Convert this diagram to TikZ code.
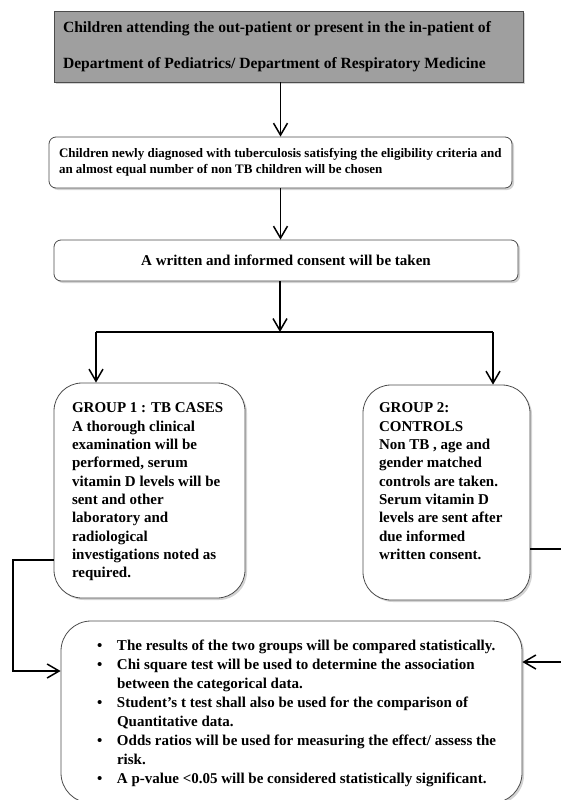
\documentclass[tikz,border=0pt]{standalone}
\usepackage{fontspec}
\setmainfont{Liberation Serif}
\usetikzlibrary{arrows.meta,shadows}
\begin{document}
\begin{tikzpicture}[x=1pt,y=-1pt,
  box/.style={draw=black!70, line width=0.8pt, fill=white, inner sep=0pt,
    drop shadow={opacity=0.35,shadow xshift=2pt,shadow yshift=-2pt}, font=\bfseries},
  arr/.style={line width=1.5pt, -{Straight Barb[length=12pt,width=14pt,line width=1.5pt]}},
  conn/.style={line width=1.5pt}
]
\useasboundingbox (0,0) rectangle (561,800);
\clip (0,0) rectangle (561,800);

\node[box, fill=gray!75!white, minimum width=469pt, minimum height=71pt] (top) at (288.5,46.5)
  {\parbox{451pt}{\fontsize{15.6}{36}\selectfont Children attending the out-patient or present in the in-patient of\\
   Department of Pediatrics/ Department of Respiratory Medicine}};

\node[box, rounded corners=7pt, minimum width=463pt, minimum height=51pt] (elig) at (280.5,162.5)
  {\parbox{443pt}{\fontsize{13}{16}\selectfont Children newly diagnosed with tuberculosis satisfying the eligibility criteria and\\
   an almost equal number of non TB children will be chosen}};

\node[box, rounded corners=7pt, minimum width=464pt, minimum height=41pt, font=\bfseries\fontsize{15}{17}\selectfont] (cons) at (286,260.5)
  {A written and informed consent will be taken};

\node[box, rounded corners=28pt, minimum width=191pt, minimum height=215pt] (g1) at (149.5,490.5)
  {\parbox[c][175pt][t]{155pt}{\fontsize{15}{18.3}\selectfont GROUP 1 : TB CASES\\
   A thorough clinical\\ examination will be\\ performed, serum\\ vitamin D levels will be\\ sent and other\\
   laboratory and\\ radiological\\ investigations noted as\\ required.}};

\node[box, rounded corners=28pt, minimum width=167pt, minimum height=215pt] (g2) at (446.5,492.5)
  {\parbox[c][179pt][t]{135pt}{\fontsize{15}{18.3}\selectfont GROUP 2:\\ CONTROLS\\ Non TB , age and\\
   gender matched\\ controls are taken.\\ Serum vitamin D\\ levels are sent after\\ due informed\\ written consent.}};

\newcommand{\bitem}[1]{\par\noindent\hangindent=20pt\hangafter=1\makebox[20pt][l]{\textbullet}#1\par}
\node[box, rounded corners=30pt, minimum width=461pt, minimum height=182pt] (res) at (291.5,712)
  {\parbox[c][144pt][t]{430pt}{\fontsize{15}{19}\selectfont\leftskip=20.5pt
   \bitem{The results of the two groups will be compared statistically.}
   \bitem{Chi square test will be used to determine the association\\ between the categorical data.}
   \bitem{Student’s t test shall also be used for the comparison of\\ Quantitative data.}
   \bitem{Odds ratios will be used for measuring the effect/ assess the\\ risk.}
   \bitem{A p-value <0.05 will be considered statistically significant.}\vspace*{-20pt}}};

\coordinate (split) at (280,332);
\coordinate (splitL) at (96,332);
\coordinate (splitR) at (493,332);
\coordinate (l1) at (13,560);
\coordinate (l2) at (13,671);
\coordinate (r1) at (565,549);
\coordinate (r2) at (565,662);

\draw[arr] (top.south -| elig.north) -- (elig.north);
\draw[arr] (elig.south) -- (elig.south |- cons.north);
\draw[arr] (split |- cons.south) -- (split);
\draw[conn] (splitL) -- (splitR);
\draw[arr] (splitL) -- (splitL |- g1.north);
\draw[arr] (splitR) -- (splitR |- g2.north);
\draw[arr] (g1.west |- l1) -- (l1) -- (l2) -- (res.west |- l2);
\draw[conn] (g2.east |- r1) -- (r1);
\draw[arr] (r2) -- (res.east |- r2);
\end{tikzpicture}
\end{document}
